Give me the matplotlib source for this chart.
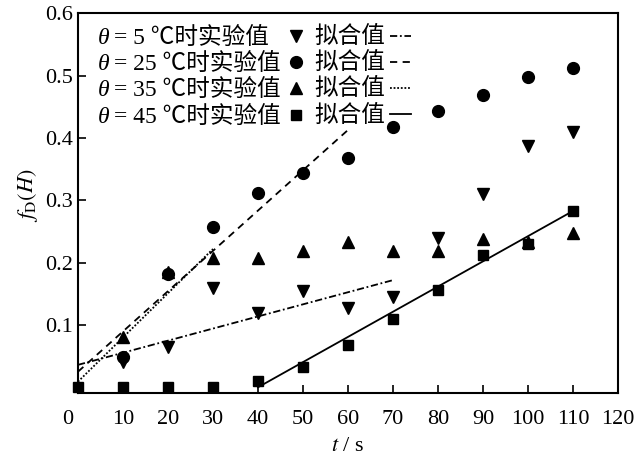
import numpy as np
import matplotlib.pyplot as plt
from matplotlib.lines import Line2D
from matplotlib.transforms import ScaledTranslation

plt.rcParams['font.family'] = ['Liberation Serif', 'Noto Sans CJK SC']
plt.rcParams['mathtext.fontset'] = 'stix'
plt.rcParams['font.size'] = 16

# experimental values
t = [0, 10, 20, 30, 40, 50, 60, 70, 80, 90, 100, 110]
f_5 = [None, 0.041, 0.065, 0.159, 0.120, 0.155, 0.127, 0.145, 0.239, 0.310, 0.387, 0.410]
f_25 = [None, 0.048, 0.182, 0.257, 0.312, 0.344, 0.368, 0.418, 0.443, 0.469, 0.498, 0.512]
f_35 = [None, 0.080, 0.185, 0.207, 0.207, 0.218, 0.234, 0.219, 0.219, 0.238, 0.234, 0.248]
f_45 = [0.001, 0.001, 0.001, 0.001, 0.010, 0.033, 0.068, 0.109, 0.156, 0.213, 0.230, 0.283]

# fitted lines (end points)
fit_5_t, fit_5_f = [0, 70], [0.036, 0.172]
fit_25_t, fit_25_f = [0, 60], [0.025, 0.413]
fit_35_t, fit_35_f = [0, 30], [0.009, 0.222]
fit_45_t, fit_45_f = [40, 110], [0.0, 0.283]

temps = ['5', '25', '35', '45']
markers = ['v', 'o', '^', 's']
msizes = [9, 8.5, 9, 7.5]
styles = [(0, (4, 1.5, 1, 1.5)), (0, (4, 3)), (0, (1, 1)), '-']

fig = plt.figure(figsize=(6.35, 4.57), dpi=100)
ax = fig.add_axes([0.1228, 0.140, 0.8504, 0.8305])

def clean(x, y):
    pts = [(a, b) for a, b in zip(x, y) if b is not None]
    return [p[0] for p in pts], [p[1] for p in pts]

for fits, m, ms in zip([f_5, f_25, f_35, f_45], markers, msizes):
    xs, ys = clean(t, fits)
    ax.plot(xs, ys, linestyle='none', marker=m, markersize=ms, color='black', clip_on=False, zorder=3)

fit_t = [fit_5_t, fit_25_t, fit_35_t, fit_45_t]
fit_f = [fit_5_f, fit_25_f, fit_35_f, fit_45_f]
for ft, ff, ls in zip(fit_t, fit_f, styles):
    ax.plot(ft, ff, color='black', linestyle=ls, linewidth=1.3)

ax.set_xlim(0, 120)
ax.set_ylim(-0.0092, 0.6)
ax.set_xticks(np.arange(0, 121, 10))
ax.set_yticks([0.1, 0.2, 0.3, 0.4, 0.5, 0.6])
ax.set_yticklabels(['0.1', '0.2', '0.3', '0.4', '0.5', '0.6'])
ax.tick_params(axis='x', direction='in', length=6, width=1.2, pad=12)
ax.tick_params(axis='y', direction='in', length=6, width=1.2)
for sp in ax.spines.values():
    sp.set_linewidth(1.5)

# the "0" sits a bit left of the corner in the original
lab0 = ax.get_xticklabels()[0]
lab0.set_transform(lab0.get_transform() + ScaledTranslation(-0.1, 0, fig.dpi_scale_trans))

ax.set_xlabel('$t$ / s', labelpad=6)
ax.set_ylabel(r'$f_{\mathrm{D}}(H)$')
ax.yaxis.set_label_coords(-0.07, 0.52)

handles = []
labels = []
for m, ms, tc in zip(markers, msizes, temps):
    handles.append(Line2D([], [], linestyle='none', marker=m, markersize=ms, color='black'))
    pad = '  ' if len(tc) == 1 else ''
    labels.append('= ' + tc + ' ℃时实验值' + pad)
for ls in styles:
    handles.append(Line2D([], [], linestyle=ls, color='black', linewidth=1.3))
    labels.append('拟合值')

leg = ax.legend(handles, labels, ncol=2, loc='upper left', bbox_to_anchor=(0.066, 0.965),
                frameon=False, markerfirst=False, fontsize=17,
                handlelength=0.9, handletextpad=0.2, columnspacing=0.35, labelspacing=0.18,
                borderpad=0, borderaxespad=0, numpoints=1)

# italic theta in front of each label
for txt in leg.get_texts()[:4]:
    ax.annotate('θ', xy=(0, 0), xycoords=txt, xytext=(-3, 0), textcoords='offset points',
                ha='right', va='bottom', fontsize=17, fontstyle='italic', zorder=6)

plt.savefig('out.png', dpi=100)
